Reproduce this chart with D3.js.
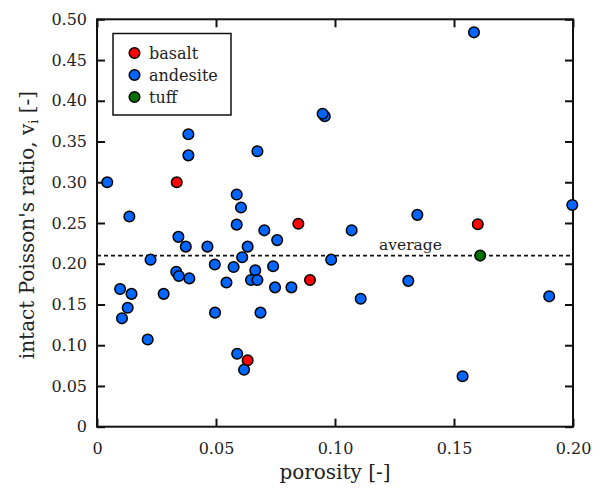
<!DOCTYPE html>
<html>
<head>
<meta charset="utf-8">
<script src="https://cdn.jsdelivr.net/npm/d3@7"></script>
<style>
  html, body { margin: 0; padding: 0; background: #fff; }
  svg { display: block; }
  text { font-family: "DejaVu Serif", serif; fill: #222; }
</style>
</head>
<body>
<svg id="chart" width="602" height="494"></svg>
<script>
// ---- data ----
const andesitePorosity = [0.0043, 0.0136, 0.0384, 0.0384, 0.0674, 0.0587, 0.0605, 0.0587, 0.0703, 0.0757,
  0.0342, 0.0373, 0.0464, 0.0633, 0.0610, 0.0225, 0.0495, 0.0574, 0.0740, 0.0665,
  0.0333, 0.0344, 0.0388, 0.0544, 0.0647, 0.0674, 0.0748, 0.0817, 0.0097, 0.0145,
  0.0280, 0.0129, 0.0105, 0.0213, 0.0496, 0.0687, 0.0589, 0.0618, 0.0957, 0.0948,
  0.1346, 0.1070, 0.0984, 0.1308, 0.1108, 0.1584, 0.1997, 0.1900, 0.1536];
const andesiteRatio = [0.300, 0.258, 0.359, 0.333, 0.338, 0.285, 0.269, 0.248, 0.241, 0.229,
  0.233, 0.221, 0.221, 0.221, 0.208, 0.205, 0.199, 0.196, 0.197, 0.192,
  0.190, 0.185, 0.182, 0.177, 0.180, 0.180, 0.171, 0.171, 0.169, 0.163,
  0.163, 0.146, 0.133, 0.107, 0.140, 0.140, 0.0896, 0.070, 0.381, 0.384,
  0.260, 0.241, 0.205, 0.179, 0.157, 0.484, 0.272, 0.160, 0.062];
const basaltPorosity = [0.0335, 0.0846, 0.0895, 0.0633, 0.1600];
const basaltRatio = [0.300, 0.249, 0.180, 0.0815, 0.2484];
const tuffPorosity = [0.161];
const tuffRatio = [0.210];
const averageRatio = 0.21;

const xTicks = [0, 0.05, 0.10, 0.15, 0.20];
const xTickLabels = ["0", "0.05", "0.10", "0.15", "0.20"];
const yTicks = [0, 0.05, 0.10, 0.15, 0.20, 0.25, 0.30, 0.35, 0.40, 0.45, 0.50];
const yTickLabels = ["0", "0.05", "0.10", "0.15", "0.20", "0.25", "0.30", "0.35", "0.40", "0.45", "0.50"];

const seriesNames = ["basalt", "andesite", "tuff"];
const seriesColors = ["#ff0000", "#0066ff", "#007000"];

// ---- layout ----
const svg = d3.select("#chart");
const L = 97, R = 573, T = 19.3, B = 426.7;
const x = d3.scaleLinear().domain([0, 0.2]).range([L, R]);
const y = d3.scaleLinear().domain([0, 0.5]).range([B, T]);
const tickLen = 8;

// average line
svg.append("line")
  .attr("x1", x(0)).attr("x2", x(0.2))
  .attr("y1", y(averageRatio)).attr("y2", y(averageRatio))
  .attr("stroke", "#111").attr("stroke-width", 1.6)
  .attr("stroke-dasharray", "4,3");
svg.append("text")
  .attr("x", 410.5).attr("y", y(averageRatio) - 6)
  .attr("text-anchor", "middle").attr("font-size", 15.5)
  .text("average");

// axes (ticks inward)
const axB = svg.append("g").attr("transform", `translate(0,${B})`)
  .call(d3.axisBottom(x).tickValues(xTicks).tickSize(-tickLen).tickPadding(16)
    .tickFormat((d, i) => xTickLabels[i]));
const axT = svg.append("g").attr("transform", `translate(0,${T})`)
  .call(d3.axisTop(x).tickValues(xTicks).tickSize(-tickLen).tickFormat(""));
const axL = svg.append("g").attr("transform", `translate(${L},0)`)
  .call(d3.axisLeft(y).tickValues(yTicks).tickSize(-tickLen).tickPadding(10)
    .tickFormat((d, i) => yTickLabels[i]));
const axR = svg.append("g").attr("transform", `translate(${R},0)`)
  .call(d3.axisRight(y).tickValues(yTicks).tickSize(-tickLen).tickFormat(""));
[axB, axT, axL, axR].forEach(g => {
  g.select(".domain").remove();
  g.selectAll(".tick line").attr("stroke", "#111").attr("stroke-width", 2);
  g.selectAll(".tick text").attr("font-size", 16).attr("font-family", "DejaVu Serif").attr("fill", "#222");
});

// frame
svg.append("rect")
  .attr("x", L).attr("y", T).attr("width", R - L).attr("height", B - T)
  .attr("fill", "none").attr("stroke", "#111").attr("stroke-width", 2);

// points
function drawSeries(px, py, color) {
  svg.append("g").selectAll("circle")
    .data(px.map((d, i) => [d, py[i]]))
    .join("circle")
    .attr("cx", d => x(d[0])).attr("cy", d => y(d[1]))
    .attr("r", 5.3)
    .attr("fill", color).attr("stroke", "#000").attr("stroke-width", 1.5);
}
drawSeries(andesitePorosity, andesiteRatio, seriesColors[1]);
drawSeries(basaltPorosity, basaltRatio, seriesColors[0]);
drawSeries(tuffPorosity, tuffRatio, seriesColors[2]);

// legend
const lg = svg.append("g");
lg.append("rect").attr("x", 113).attr("y", 33.5).attr("width", 118).attr("height", 81.5)
  .attr("fill", "#fff").attr("stroke", "#111").attr("stroke-width", 1.5);
seriesNames.forEach((name, i) => {
  const cy = 53 + i * 22;
  lg.append("circle").attr("cx", 134.5).attr("cy", cy).attr("r", 5.3)
    .attr("fill", seriesColors[i]).attr("stroke", "#000").attr("stroke-width", 1.5);
  lg.append("text").attr("x", 149).attr("y", cy + 5.5).attr("font-size", 16).text(name);
});

// axis titles
svg.append("text")
  .attr("x", 335).attr("y", 479)
  .attr("text-anchor", "middle").attr("font-size", 20)
  .text("porosity [-]");
const yt = svg.append("text")
  .attr("transform", `translate(34,225) rotate(-90)`)
  .attr("text-anchor", "middle").attr("font-size", 20);
yt.append("tspan").text("intact Poisson's ratio, v");
yt.append("tspan").attr("font-size", 13).attr("dy", 4).text("i");
yt.append("tspan").attr("dy", -4).text(" [-]");
</script>
</body>
</html>
